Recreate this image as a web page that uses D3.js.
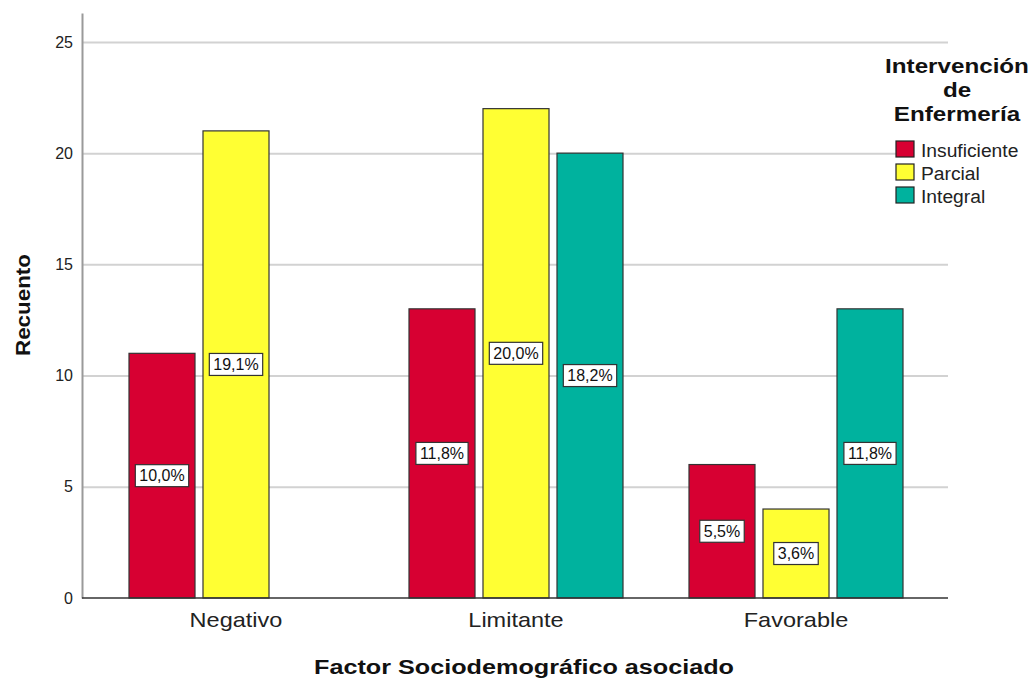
<!DOCTYPE html>
<html>
<head>
<meta charset="utf-8">
<script src="https://cdn.jsdelivr.net/npm/d3@7"></script>
<style>
  html, body { margin: 0; padding: 0; background: #fff; }
  svg { display: block; font-family: "Liberation Sans", Arial, sans-serif; }
</style>
</head>
<body>
<svg id="chart" width="1031" height="678"></svg>
<script>
// Counts per sociodemographic factor, one array per nursing-intervention level
const categories = ["Negativo", "Limitante", "Favorable"];
const seriesNames = ["Insuficiente", "Parcial", "Integral"];
const insuficiente = [11, 13, 6];
const parcial = [21, 22, 4];
const integral = [0, 20, 13];
const yTicks = [0, 5, 10, 15, 20, 25];
const colors = ["#d70032", "#ffff33", "#00b29e"];

const seriesValues = [insuficiente, parcial, integral];
const total = d3.sum(seriesValues.flat());
const pct = v => d3.format(".1f")(v / total * 100).replace(".", ",") + "%";

const svg = d3.select("#chart");
const plotLeft = 82, plotRight = 948, plotTop = 13, plotBottom = 598;

const y = d3.scaleLinear().domain([0, 26.3]).range([plotBottom, plotTop]);
const x0 = d3.scaleBand().domain(categories).range([96, 936])
  .paddingInner(0.2357).paddingOuter(0.2357 / 2);
const x1 = d3.scaleBand().domain(seriesNames).range([0, x0.bandwidth()])
  .paddingInner(0.108).paddingOuter(0);

// Horizontal gridlines
const grid = svg.append("g").attr("transform", `translate(${plotLeft},0)`)
  .call(d3.axisLeft(y).tickValues(yTicks.filter(t => t > 0)).tickSize(-(plotRight - plotLeft)).tickFormat(""));
grid.select(".domain").remove();
grid.selectAll("line").attr("stroke", "#d2d2d2").attr("stroke-width", 2);

// Y axis with labels
const yAxis = svg.append("g").attr("transform", `translate(${plotLeft},0)`)
  .call(d3.axisLeft(y).tickValues(yTicks).tickSize(0).tickPadding(9));
yAxis.select(".domain").attr("stroke", "#9a9a9a").attr("stroke-width", 2);
yAxis.selectAll("text").attr("font-size", 16).attr("fill", "#222")
  .attr("font-family", "Liberation Sans, Arial, sans-serif");

// Bars
const rows = [];
categories.forEach((c, i) => seriesNames.forEach((s, j) => {
  rows.push({ cat: c, ser: s, value: seriesValues[j][i], color: colors[j] });
}));
const shown = rows.filter(d => d.value > 0);

svg.append("g").selectAll("rect").data(shown).join("rect")
  .attr("x", d => x0(d.cat) + x1(d.ser))
  .attr("y", d => y(d.value))
  .attr("width", x1.bandwidth())
  .attr("height", d => y(0) - y(d.value))
  .attr("fill", d => d.color)
  .attr("stroke", "#333")
  .attr("stroke-width", 1.2);

// X axis baseline and category labels
const xAxis = svg.append("g").attr("transform", `translate(0,${plotBottom})`)
  .call(d3.axisBottom(x0).tickSize(0).tickPadding(14));
xAxis.select(".domain").attr("d", `M${plotLeft},0H${plotRight}`).attr("stroke", "#333").attr("stroke-width", 1.5);
xAxis.selectAll("text").attr("font-size", 21).attr("fill", "#222")
  .attr("font-family", "Liberation Sans, Arial, sans-serif")
  .attr("transform", "scale(1.12,1)");

// Percentage labels in boxes at mid-height of each bar
const lab = svg.append("g").selectAll("g").data(shown).join("g")
  .attr("transform", d => `translate(${x0(d.cat) + x1(d.ser) + x1.bandwidth() / 2},${y(d.value / 2)})`);
lab.append("text")
  .attr("text-anchor", "middle").attr("dy", "0.36em")
  .attr("font-size", 16).attr("fill", "#111")
  .text(d => pct(d.value));
lab.each(function () {
  const g = d3.select(this);
  const b = g.select("text").node().getBBox();
  g.insert("rect", "text")
    .attr("x", b.x - 4).attr("y", -11)
    .attr("width", b.width + 8).attr("height", 22)
    .attr("fill", "#fff").attr("stroke", "#333").attr("stroke-width", 1.2);
});

// Axis titles
svg.append("text")
  .attr("transform", `translate(30,305) rotate(-90) scale(1.12,1)`)
  .attr("text-anchor", "middle").attr("font-weight", "bold").attr("font-size", 20)
  .attr("fill", "#111").text("Recuento");
svg.append("text")
  .attr("transform", "translate(524,674) scale(1.2,1)")
  .attr("text-anchor", "middle").attr("font-weight", "bold").attr("font-size", 21)
  .attr("fill", "#111").text("Factor Sociodemográfico asociado");

// Legend
const legend = svg.append("g");
["Intervención", "de", "Enfermería"].forEach((t, i) => {
  legend.append("text")
    .attr("transform", `translate(957,${73 + i * 24}) scale(1.21,1)`)
    .attr("text-anchor", "middle").attr("font-weight", "bold").attr("font-size", 20)
    .attr("fill", "#111").text(t);
});
const items = legend.selectAll("g.item").data(seriesNames).join("g")
  .attr("class", "item")
  .attr("transform", (d, i) => `translate(896,${141 + i * 23})`);
items.append("rect").attr("x", 17).attr("y", -1).attr("width", 114).attr("height", 19).attr("fill", "#fff");
items.append("rect").attr("width", 18).attr("height", 16)
  .attr("fill", (d, i) => colors[i]).attr("stroke", "#222").attr("stroke-width", 1.2);
items.append("text").attr("transform", "translate(25,16) scale(1.07,1)")
  .attr("font-size", 18).attr("fill", "#222").text(d => d);
</script>
</body>
</html>
